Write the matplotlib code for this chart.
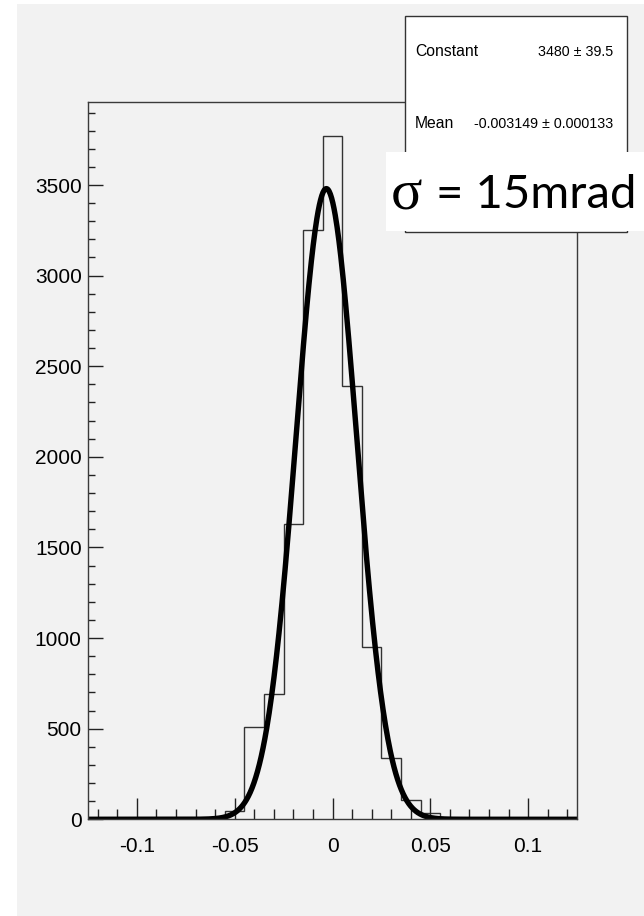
import numpy as np
import matplotlib
matplotlib.use("Agg")
import matplotlib.pyplot as plt
from matplotlib.patches import Rectangle
from matplotlib.ticker import MultipleLocator, FixedLocator, FixedFormatter

# histogram: 25 bins of 0.01 from -0.125 to 0.125
bin_edges = np.linspace(-0.125, 0.125, 26)
counts = [0, 0, 0, 0, 0, 0, 0, 47, 507, 689, 1632, 3250, 3772,
          2391, 952, 336, 106, 36, 0, 0, 0, 0, 0, 0, 0]

# gaussian fit parameters
fit_const = 3480
fit_mean = -0.003149
fit_sigma = 0.0155

xtick_vals = [-0.1, -0.05, 0, 0.05, 0.1]
xtick_labels = ["-0.1", "-0.05", "0", "0.05", "0.1"]
ytick_vals = [0, 500, 1000, 1500, 2000, 2500, 3000, 3500]

stat_names = ["Constant", "Mean"]
stat_values = ["3480 \u00b1 39.5", "-0.003149 \u00b1 0.000133"]

W, H = 644, 916
fig = plt.figure(figsize=(W / 100, H / 100), dpi=100)
fig.patch.set_facecolor("white")
bg = "#f2f2f2"

# grey canvas
fig.patches.append(Rectangle((17 / W, 0), 1 - 17 / W, 1 - 4 / H, transform=fig.transFigure,
                             facecolor=bg, edgecolor="none", zorder=-10))

ax = fig.add_axes([88 / W, 1 - 819.3 / H, (577 - 88) / W, (819.3 - 102) / H])
ax.set_facecolor(bg)
for s in ax.spines.values():
    s.set_color("#3a3a3a")
    s.set_linewidth(1.0)

ax.stairs(counts, bin_edges, color="#333333", linewidth=1.0, baseline=0)

xs = np.linspace(-0.125, 0.125, 800)
ys = fit_const * np.exp(-0.5 * ((xs - fit_mean) / fit_sigma) ** 2)
ax.plot(xs, ys, color="black", linewidth=3.9, solid_capstyle="butt")

ax.set_xlim(-0.125, 0.125)
ax.set_ylim(0, 3958)

ax.xaxis.set_major_locator(FixedLocator(xtick_vals))
ax.xaxis.set_major_formatter(FixedFormatter(xtick_labels))
ax.xaxis.set_minor_locator(MultipleLocator(0.01))
ax.yaxis.set_major_locator(FixedLocator(ytick_vals))
ax.yaxis.set_minor_locator(MultipleLocator(100))

ax.tick_params(axis="x", which="major", direction="in", length=15, width=1, color="#222222",
               pad=12.5, labelsize=15)
ax.tick_params(axis="x", which="minor", direction="in", length=7.5, width=1, color="#222222")
ax.tick_params(axis="y", which="major", direction="in", length=11, width=1, color="#222222",
               pad=4.5, labelsize=15)
ax.tick_params(axis="y", which="minor", direction="in", length=5, width=1, color="#222222")
for lab in ax.get_xticklabels() + ax.get_yticklabels():
    lab.set_family("Liberation Sans")

# stats box
fig.patches.append(Rectangle((405 / W, 1 - 232 / H), (627 - 405) / W, (232 - 16) / H,
                             transform=fig.transFigure, facecolor="white",
                             edgecolor="#333333", linewidth=1.0, zorder=5))
for i, (name, val) in enumerate(zip(stat_names, stat_values)):
    yy = 1 - (52 + 72 * i) / H
    fig.text(415 / W, yy, name, ha="left", va="center", fontsize=11.3,
             family="Liberation Sans", zorder=6)
    fig.text(613 / W, yy, val, ha="right", va="center", fontsize=10.3,
             family="Liberation Sans", zorder=6)

# sigma annotation
fig.patches.append(Rectangle((386 / W, 1 - 231 / H), (W - 386) / W, (231 - 152) / H,
                             transform=fig.transFigure, facecolor="white",
                             edgecolor="none", zorder=7))
fig.text(391 / W, 1 - 195 / H, "\u03c3", ha="left", va="center", fontsize=42,
         family="Liberation Serif", zorder=8)
fig.text(436 / W, 1 - 195 / H, "= 15mrad", ha="left", va="center", fontsize=34,
         family="Lato", zorder=8)

fig.savefig("out.png", dpi=100)
